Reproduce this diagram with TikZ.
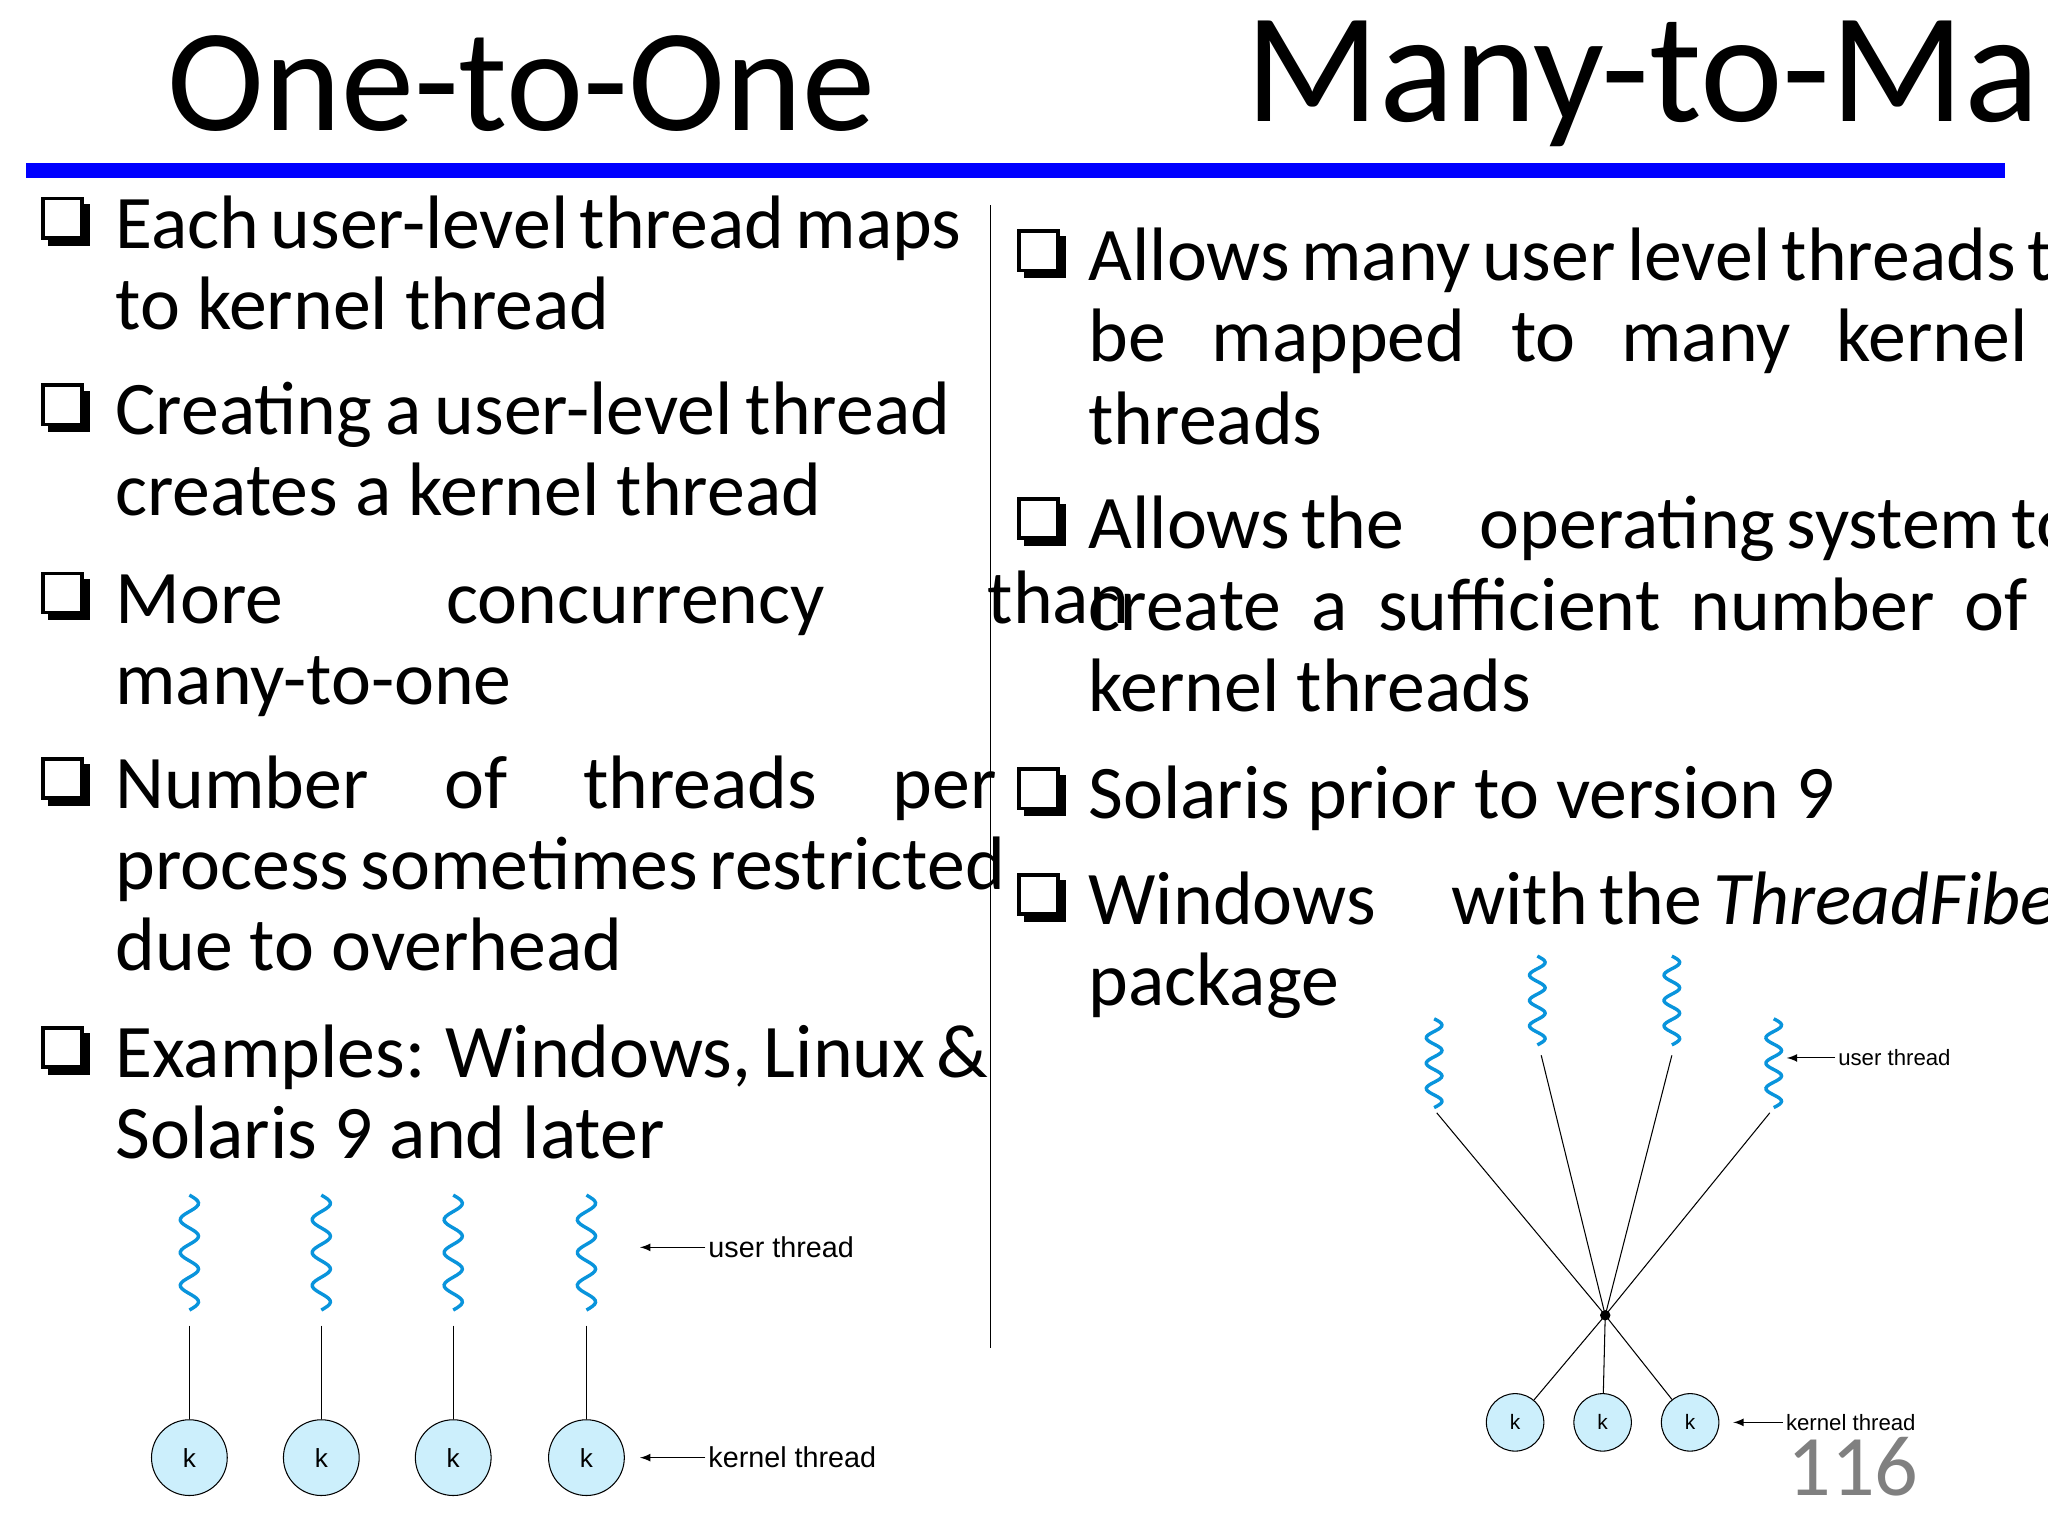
\documentclass[tikz,border=0pt]{standalone}
\usepackage{fontspec}
\setmainfont{Carlito}
\newfontfamily\lab{Liberation Sans}
\begin{document}
\begin{tikzpicture}[x=0.5pt,y=-0.5pt,
  body/.style={anchor=base west,inner sep=0pt,font=\fontsize{29}{34}\selectfont},
  ttl/.style={anchor=base west,inner sep=0pt,font=\fontsize{56}{60}\selectfont},
  kc/.style={circle,draw,fill=cyan!20,minimum size=29pt,inner sep=0pt,font=\lab\fontsize{10}{12}\selectfont},
  kcs/.style={circle,draw,fill=cyan!20,minimum size=22pt,inner sep=0pt,font=\lab\fontsize{8}{10}\selectfont},
  wav/.style={draw=cyan!80!blue,line width=1.3pt},
  lbl/.style={anchor=west,inner sep=1pt,font=\lab\fontsize{11}{13}\selectfont},
  lbls/.style={anchor=west,inner sep=1pt,font=\lab\fontsize{8.5}{10}\selectfont},
  arr/.style={-latex,thin}]
\useasboundingbox (0,0) rectangle (1568,1176);
\fill[white] (0,0) rectangle (1568,1176);
\newcommand\bx[2]{\fill[black] (#1+4,#2+4) rectangle (#1+36,#2+36);
  \draw[fill=white,line width=1.4pt] (#1,#2) rectangle (#1+30,#2+30);}
\newcommand\jl[3]{\node[body] at (#1,#2) {\makebox[319.5pt][s]{#3}};}
\newcommand\jr[3]{\node[body] at (#1,#2) {\makebox[359.5pt][s]{#3}};}
% titles
\node[ttl] at (128,100) {One-to-One};
\node[ttl,font=\fontsize{60}{64}\selectfont] at (953,93) {Many-to-Many};
\fill[blue] (20,125) rectangle (1535,136);
\draw[thin] (758,157) -- (758,1032);
% left column
\bx{33}{152}\jl{88}{190}{Each user-level thread maps}
\node[body] at (88,252) {to kernel thread};
\bx{33}{295}\jl{88}{333}{Creating a user-level thread}
\node[body] at (88,395) {creates a kernel thread};
\bx{33}{439}\jl{88}{477}{More\hspace{2em} concurrency\hspace{2em} than}
\node[body] at (88,539) {many-to-one};
\bx{33}{581}\jl{88}{619}{Number\quad of\quad threads\quad per}
\jl{88}{681}{process sometimes restricted}
\node[body] at (88,743) {due to overhead};
\bx{33}{787}\jl{88}{825}{Examples: Windows, Linux \&}
\node[body] at (88,887) {Solaris 9 and later};
% right column
\bx{780}{177}\jr{833}{215}{Allows many user level threads to}
\jr{833}{277}{be mapped to many kernel}
\node[body] at (833,340) {threads};
\bx{780}{382}\jr{833}{420}{Allows the\quad operating system to}
\jr{833}{483}{create a sufficient number of}
\node[body] at (833,545) {kernel threads};
\bx{780}{589}\node[body] at (833,627) {Solaris prior to version 9};
\bx{780}{670}\jr{833}{708}{Windows\quad with the \textit{ThreadFiber}}
\node[body] at (833,770) {package};
% left diagram
\foreach \i/\xx in {1/145,2/246,3/347,4/449}{
  \draw[wav] plot[smooth,samples=60,domain=0:88] ({\xx+7*sin(14.318*\x)},{915+\x});
  \coordinate (u\i) at (\xx,1015);
  \node[kc] (k\i) at (\xx,1116) {k};
  \draw (u\i) -- (k\i);
}
\coordinate (ua) at (540,955); \coordinate (ub) at (490,955);
\draw[arr] (ua) -- (ub); \node[lbl] at (ua) {user thread};
\coordinate (ka) at (540,1116); \coordinate (kb) at (490,1116);
\draw[arr] (ka) -- (kb); \node[lbl] at (ka) {kernel thread};
% right diagram
\foreach \i/\xx/\yy in {1/1098/780,2/1177/732,3/1280/732,4/1358/780}{
  \draw[wav] plot[smooth,samples=60,domain=0:68] ({\xx+6*sin(18.529*\x)},{\yy+\x});
}
\coordinate (c) at (1229,1007);
\coordinate (v1) at (1100,852); \coordinate (v2) at (1180,808);
\coordinate (v3) at (1280,808); \coordinate (v4) at (1355,852);
\foreach \i in {1,...,4}{\draw (v\i) -- (c);}
\node[kcs] (m1) at (1160,1089) {k};
\node[kcs] (m2) at (1227,1089) {k};
\node[kcs] (m3) at (1294,1089) {k};
\foreach \i in {1,2,3}{\draw (c) -- (m\i);}
\fill (c) circle (4);
\coordinate (ra) at (1405,810); \coordinate (rb) at (1368,810);
\draw[arr] (ra) -- (rb); \node[lbls] at (ra) {user thread};
\coordinate (sa) at (1365,1089); \coordinate (sb) at (1327,1089);
\draw[arr] (sa) -- (sb); \node[lbls] at (sa) {kernel thread};
\node[anchor=base west,inner sep=0pt,text=gray,font=\fontsize{33}{36}\selectfont] at (1368,1145) {116};
\end{tikzpicture}
\end{document}
